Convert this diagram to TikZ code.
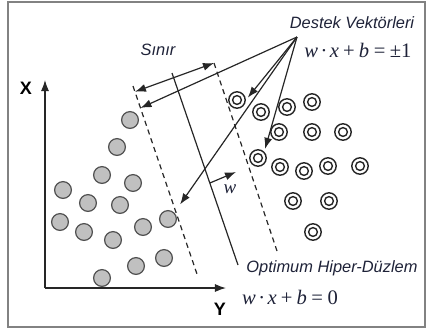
\documentclass[tikz,border=0pt]{standalone}
\usepackage{fontspec}
\setmainfont{Liberation Serif}
\setsansfont{Liberation Sans}
\usetikzlibrary{arrows.meta, positioning}
\definecolor{svmInk}{RGB}{30,34,56}
\definecolor{svmLine}{RGB}{38,38,38}
\definecolor{svmFrame}{RGB}{130,130,130}
\definecolor{svmGray}{RGB}{192,192,192}
\definecolor{svmGrayDk}{RGB}{80,80,80}
\newcommand{\hypeq}[1]{\textit{w}\kern0.12em·\kern0.12em\textit{x}\kern0.2em+\kern0.2em\textit{b}\kern0.22em=\kern0.22em#1}
\tikzset{
  negpt/.style={circle, draw=svmGrayDk, fill=svmGray, line width=0.6pt,
    minimum size=8.4pt, inner sep=0pt},
  pospt/.style={circle, draw=svmLine, fill=white, line width=0.7pt,
    minimum size=8.2pt, inner sep=0pt,
    path picture={\draw[svmLine, line width=0.7pt] (path picture bounding box.center) circle (2.2pt);}},
  lbl/.style={font=\sffamily\itshape\fontsize{8.2}{9}\selectfont, text=svmInk, inner sep=0pt},
  eqlbl/.style={font=\fontsize{10.3}{11}\selectfont, text=svmInk, inner sep=0pt},
  axlbl/.style={font=\sffamily\bfseries\fontsize{9}{10}\selectfont, text=black, inner sep=0pt},
  arrow/.style={-{Latex[length=5.5pt, width=4pt]}, line width=0.6pt, svmLine},
  darrow/.style={{Latex[length=5.5pt, width=4pt]}-{Latex[length=5.5pt, width=4pt]}, line width=0.6pt, svmLine},
  plane/.style={line width=0.6pt, svmLine},
  margin/.style={line width=0.6pt, svmLine, dash pattern=on 2.6pt off 2pt},
}

\begin{document}
\begin{tikzpicture}[x=0.5pt, y=-0.5pt]

\useasboundingbox (0,0) rectangle (436,329);
\draw[svmFrame, line width=1pt] (8,2) rectangle (425,327);

%% AXES
\coordinate (origin) at (45,288);
\coordinate (xtip) at (45,80);
\coordinate (ytip) at (226,288);
\draw[arrow] (origin) -- (xtip);
\draw[arrow] (origin) -- (ytip);
\node[axlbl] (xlbl) at (26,88) {X};
\node[axlbl] (ylbl) at (220,309) {Y};

%% CLASS -1 (grey points)
\node[negpt] (n1)  at (130,120) {};
\node[negpt] (n2)  at (117,147) {};
\node[negpt] (n3)  at (102,175) {};
\node[negpt] (n4)  at (63,190)  {};
\node[negpt] (n5)  at (133,183) {};
\node[negpt] (n6)  at (88,203)  {};
\node[negpt] (n7)  at (120,205) {};
\node[negpt] (n8)  at (60,222)  {};
\node[negpt] (n9)  at (84,232)  {};
\node[negpt] (n10) at (113,240) {};
\node[negpt] (n11) at (143,227) {};
\node[negpt] (n12) at (168,219) {};
\node[negpt] (n13) at (136,266) {};
\node[negpt] (n14) at (164,258) {};
\node[negpt] (n15) at (102,278) {};

%% CLASS +1 (ringed points)
\node[pospt] (p1)  at (237,100) {};
\node[pospt] (p2)  at (261,112) {};
\node[pospt] (p3)  at (287,107) {};
\node[pospt] (p4)  at (312,102) {};
\node[pospt] (p5)  at (279,132) {};
\node[pospt] (p6)  at (312,132) {};
\node[pospt] (p7)  at (343,132) {};
\node[pospt] (p8)  at (258,158) {};
\node[pospt] (p9)  at (280,167) {};
\node[pospt] (p10) at (304,171) {};
\node[pospt] (p11) at (328,166) {};
\node[pospt] (p12) at (360,166) {};
\node[pospt] (p13) at (293,201) {};
\node[pospt] (p14) at (329,201) {};
\node[pospt] (p15) at (313,232) {};

%% HYPERPLANE AND MARGINS
\coordinate (h1) at (172,73);
\coordinate (h2) at (238,265);
\coordinate (mL1) at (133,86);
\coordinate (mL2) at (198,277);
\coordinate (mR1) at (214,63);
\coordinate (mR2) at (277,251);
\draw[plane]  (h1) -- (h2);
\draw[margin] (mL1) -- (mL2);
\draw[margin] (mR1) -- (mR2);
\path (mL1) -- (mL2) coordinate[pos=0.03] (sA) coordinate[pos=0.115] (sB);
\path (h1) -- (h2) coordinate[pos=0.573] (hw);
\coordinate (wtip) at (236,172);

%% LABELS
\node[lbl] (sinir) at (158,50) {Sınır};
\node[lbl] (destek) at (352,23) {Destek Vektörleri};
\node[eqlbl] (eqpm) at (358,50) {\hypeq{±1}};
\node[lbl] (optlbl) at (332,268) {Optimum Hiper-Düzlem};
\node[eqlbl] (eqzero) at (290,297) {\hypeq{0}};
\node[font=\itshape\fontsize{9.5}{10}\selectfont, text=svmInk, inner sep=0pt] (wlbl) at (230,189) {w};

%% ARROWS
\coordinate (sv) at (297,37);
\draw[darrow] (sA) -- (mR1);
\draw[arrow] (hw) -- (wtip);
\draw[arrow] (sv) -- (sB);
\draw[arrow, shorten >=1.5pt] (sv) -- (p1.east);
\draw[arrow, shorten >=1.5pt] (sv) -- (p8.north east);
\draw[arrow, shorten >=5pt] (sv) -- (n12.north east);

\end{tikzpicture}
\end{document}
